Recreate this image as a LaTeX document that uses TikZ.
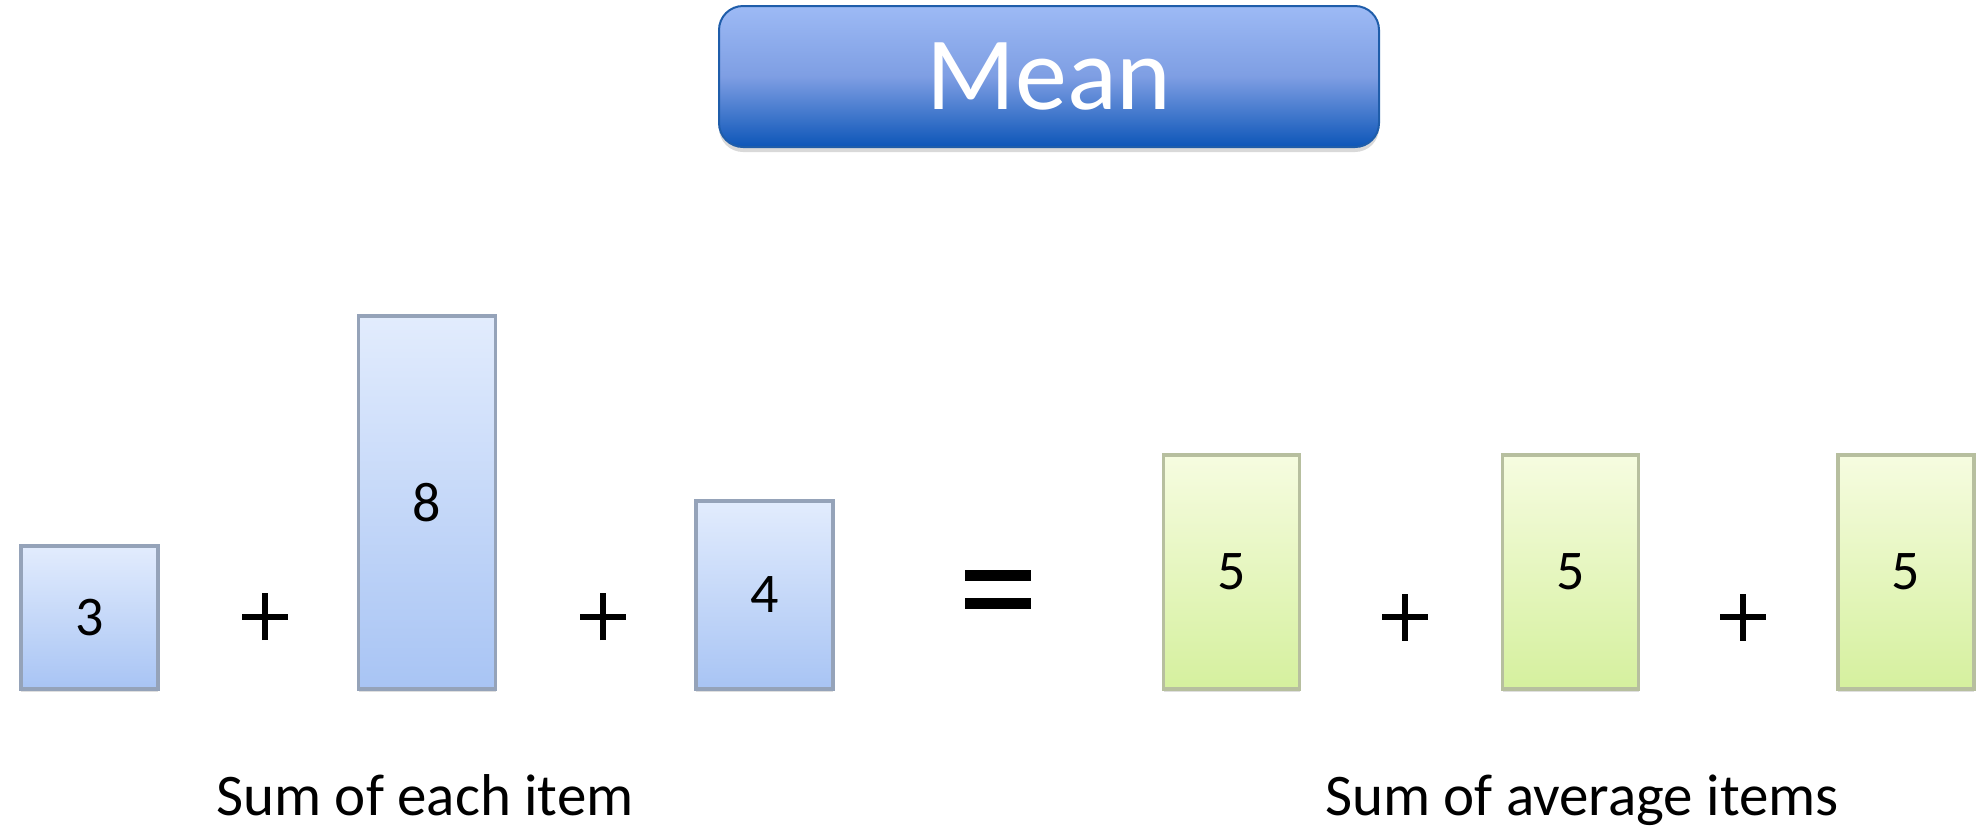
\documentclass[tikz,border=0pt]{standalone}
\usepackage{fontspec}
\setmainfont{Carlito}
\usetikzlibrary{shadows}
\definecolor{bluetop}{HTML}{E2ECFD}
\definecolor{bluebot}{HTML}{A8C4F4}
\definecolor{blueedge}{HTML}{95A3B9}
\definecolor{greentop}{HTML}{F6FCE0}
\definecolor{greenbot}{HTML}{D5F09E}
\definecolor{greenedge}{HTML}{B7BF9F}
\definecolor{meantop}{HTML}{9DBAF5}
\definecolor{meanmid}{HTML}{7E9EE3}
\definecolor{meanbot}{HTML}{0D56B8}
\definecolor{meanedge}{HTML}{1F5DAA}
\tikzset{
  bar/.style={draw, line width=1.6pt, inner sep=0pt, minimum width=68.5pt,
    font=\fontsize{28}{30}\selectfont,
    drop shadow={shadow xshift=0pt, shadow yshift=-1.5pt, opacity=0.25}},
  bluebar/.style={bar, draw=blueedge, top color=bluetop, bottom color=bluebot},
  greenbar/.style={bar, draw=greenedge, top color=greentop, bottom color=greenbot, minimum width=68pt},
  meanbox/.style={draw=meanedge, line width=1pt, rounded corners=12pt, inner sep=0pt,
    minimum width=330pt, minimum height=70.5pt, text=white,
    top color=meantop, bottom color=meanbot, middle color=meanmid,
    font=\fontsize{52}{56}\selectfont,
    drop shadow={shadow xshift=0pt, shadow yshift=-2.5pt, opacity=0.3}},
  opline/.style={line width=3pt, black},
  eqline/.style={line width=5.5pt, black},
  caption/.style={anchor=base, inner sep=0pt, font=\fontsize{29.5}{31}\selectfont}
}
\begin{document}
\begin{tikzpicture}[x=0.5pt, y=-0.5pt]
\useasboundingbox (0,0) rectangle (1984,827);
% title
\node[meanbox] (mean) at (1049,76.5) {Mean};
% blue bars
\node[bluebar, minimum height=71.5pt] (b3) at (89.5,617.5) {3};
\node[bluebar, minimum height=186.5pt] (b8) at (427,502.5) {8};
\node[bluebar, minimum height=94pt] (b4) at (764.5,595) {4};
% green bars
\node[greenbar, minimum height=117pt] (g1) at (1231.5,572) {5};
\node[greenbar, minimum height=117pt] (g2) at (1570.5,572) {5};
\node[greenbar, minimum height=117pt] (g3) at (1906,572) {5};
% plus signs
\foreach \n/\x/\y in {p1/265/616.5, p2/603/616.5, p3/1405/617, p4/1743/617}{
  \coordinate (\n) at (\x,\y);
  \draw[opline] ([xshift=-11.5pt]\n) -- ([xshift=11.5pt]\n);
  \draw[opline] ([yshift=-11.75pt]\n) -- ([yshift=11.75pt]\n);
}
% equals
\coordinate (eqa) at (998,575);
\coordinate (eqb) at (998,603);
\draw[eqline] ([xshift=-16.5pt]eqa) -- ([xshift=16.5pt]eqa);
\draw[eqline] ([xshift=-16.5pt]eqb) -- ([xshift=16.5pt]eqb);
% captions
\node[caption] (capl) at (425,815) {Sum of each item};
\node[caption] (capr) at (1582,815) {Sum of average items};
\end{tikzpicture}
\end{document}
